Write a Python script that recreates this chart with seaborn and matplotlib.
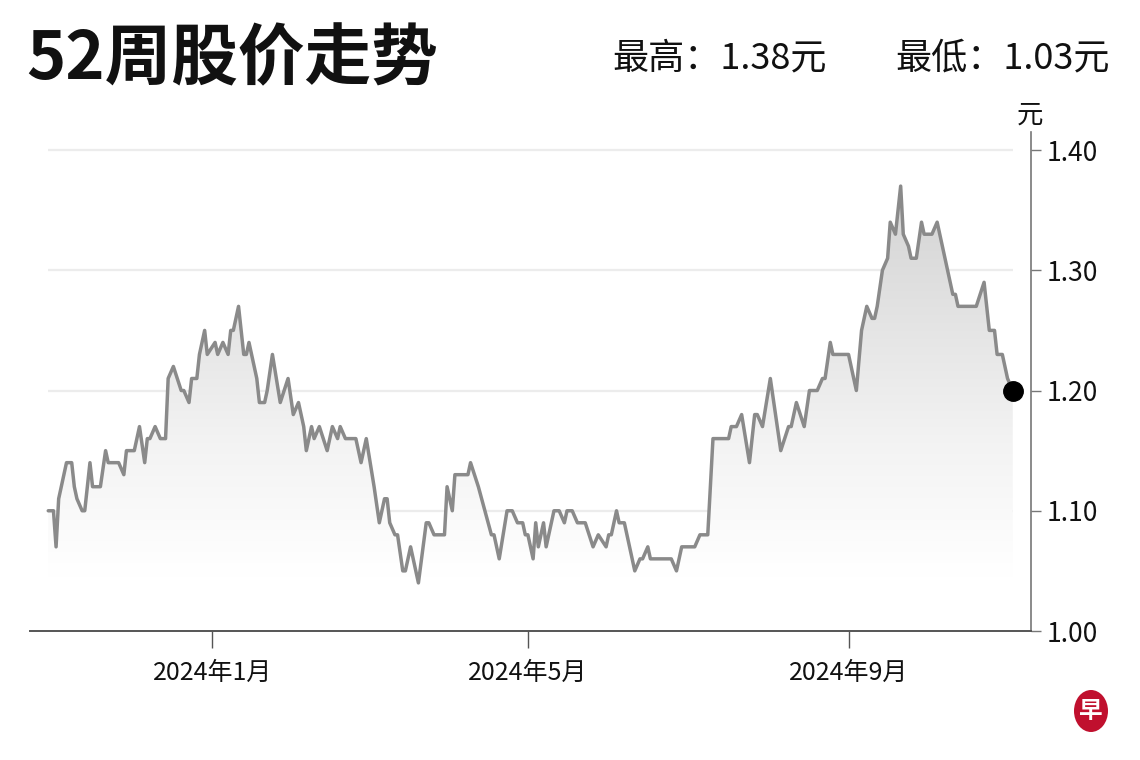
import numpy as np
import pandas as pd
import matplotlib
matplotlib.use("Agg")
import matplotlib.pyplot as plt
import matplotlib.dates as mdates
from matplotlib.patches import Ellipse
from matplotlib.colors import LinearSegmentedColormap
import seaborn as sns

# ---------------- data ----------------
dates = [
    "2023-10-30", "2023-11-01", "2023-11-02", "2023-11-03", "2023-11-05", "2023-11-06",
    "2023-11-08", "2023-11-09", "2023-11-10", "2023-11-12", "2023-11-13", "2023-11-15",
    "2023-11-16", "2023-11-19", "2023-11-21", "2023-11-22", "2023-11-26", "2023-11-28",
    "2023-11-29", "2023-12-02", "2023-12-04", "2023-12-06", "2023-12-07", "2023-12-08",
    "2023-12-10", "2023-12-12", "2023-12-14", "2023-12-15", "2023-12-17", "2023-12-20",
    "2023-12-21", "2023-12-23", "2023-12-24", "2023-12-26", "2023-12-27", "2023-12-29",
    "2023-12-30", "2024-01-02", "2024-01-03", "2024-01-05", "2024-01-07", "2024-01-08",
    "2024-01-09", "2024-01-11", "2024-01-13", "2024-01-14", "2024-01-15", "2024-01-17",
    "2024-01-18", "2024-01-19", "2024-01-21", "2024-01-22", "2024-01-24", "2024-01-27",
    "2024-01-30", "2024-02-01", "2024-02-03", "2024-02-05", "2024-02-06", "2024-02-08",
    "2024-02-09", "2024-02-11", "2024-02-14", "2024-02-16", "2024-02-18", "2024-02-19",
    "2024-02-21", "2024-02-25", "2024-02-27", "2024-02-29", "2024-03-03", "2024-03-05",
    "2024-03-07", "2024-03-08", "2024-03-09", "2024-03-11", "2024-03-12", "2024-03-14",
    "2024-03-15", "2024-03-17", "2024-03-20", "2024-03-23", "2024-03-24", "2024-03-26",
    "2024-03-30", "2024-03-31", "2024-04-02", "2024-04-03", "2024-04-08", "2024-04-09",
    "2024-04-12", "2024-04-17", "2024-04-18", "2024-04-20", "2024-04-23", "2024-04-25",
    "2024-04-27", "2024-04-29", "2024-04-30", "2024-05-01", "2024-05-03", "2024-05-04",
    "2024-05-05", "2024-05-07", "2024-05-08", "2024-05-11", "2024-05-13", "2024-05-15",
    "2024-05-16", "2024-05-18", "2024-05-20", "2024-05-23", "2024-05-26", "2024-05-28",
    "2024-05-31", "2024-06-01", "2024-06-02", "2024-06-04", "2024-06-05", "2024-06-07",
    "2024-06-09", "2024-06-11", "2024-06-13", "2024-06-14", "2024-06-16", "2024-06-17",
    "2024-06-25", "2024-06-27", "2024-06-29", "2024-07-04", "2024-07-06", "2024-07-09",
    "2024-07-11", "2024-07-17", "2024-07-18", "2024-07-20", "2024-07-22", "2024-07-25",
    "2024-07-27", "2024-07-28", "2024-07-30", "2024-08-02", "2024-08-06", "2024-08-09",
    "2024-08-10", "2024-08-12", "2024-08-15", "2024-08-17", "2024-08-20", "2024-08-22",
    "2024-08-23", "2024-08-25", "2024-08-26", "2024-09-01", "2024-09-04", "2024-09-06",
    "2024-09-08", "2024-09-10", "2024-09-11", "2024-09-12", "2024-09-14", "2024-09-16",
    "2024-09-17", "2024-09-19", "2024-09-21", "2024-09-22", "2024-09-24", "2024-09-25",
    "2024-09-27", "2024-09-29", "2024-09-30", "2024-10-03", "2024-10-05", "2024-10-07",
    "2024-10-09", "2024-10-11", "2024-10-12", "2024-10-13", "2024-10-20", "2024-10-23",
    "2024-10-25", "2024-10-27", "2024-10-28", "2024-10-30", "2024-11-01", "2024-11-03",
]
prices = [
    1.10, 1.10, 1.07, 1.11, 1.13, 1.14,
    1.14, 1.12, 1.11, 1.10, 1.10, 1.14,
    1.12, 1.12, 1.15, 1.14, 1.14, 1.13,
    1.15, 1.15, 1.17, 1.14, 1.16, 1.16,
    1.17, 1.16, 1.16, 1.21, 1.22, 1.20,
    1.20, 1.19, 1.21, 1.21, 1.23, 1.25,
    1.23, 1.24, 1.23, 1.24, 1.23, 1.25,
    1.25, 1.27, 1.23, 1.23, 1.24, 1.22,
    1.21, 1.19, 1.19, 1.20, 1.23, 1.19,
    1.21, 1.18, 1.19, 1.17, 1.15, 1.17,
    1.16, 1.17, 1.15, 1.17, 1.16, 1.17,
    1.16, 1.16, 1.14, 1.16, 1.12, 1.09,
    1.11, 1.11, 1.09, 1.08, 1.08, 1.05,
    1.05, 1.07, 1.04, 1.09, 1.09, 1.08,
    1.08, 1.12, 1.10, 1.13, 1.13, 1.14,
    1.12, 1.08, 1.08, 1.06, 1.10, 1.10,
    1.09, 1.09, 1.08, 1.08, 1.06, 1.09,
    1.07, 1.09, 1.07, 1.10, 1.10, 1.09,
    1.10, 1.10, 1.09, 1.09, 1.07, 1.08,
    1.07, 1.08, 1.08, 1.10, 1.09, 1.09,
    1.07, 1.05, 1.06, 1.06, 1.07, 1.06,
    1.06, 1.05, 1.07, 1.07, 1.08, 1.08,
    1.16, 1.16, 1.17, 1.17, 1.18, 1.14,
    1.18, 1.18, 1.17, 1.21, 1.15, 1.17,
    1.17, 1.19, 1.17, 1.20, 1.20, 1.21,
    1.21, 1.24, 1.23, 1.23, 1.20, 1.25,
    1.27, 1.26, 1.26, 1.27, 1.30, 1.31,
    1.34, 1.33, 1.37, 1.33, 1.32, 1.31,
    1.31, 1.34, 1.33, 1.33, 1.34, 1.32,
    1.30, 1.28, 1.28, 1.27, 1.27, 1.29,
    1.25, 1.25, 1.23, 1.23, 1.21, 1.20,
]
y_ticks = [1.00, 1.10, 1.20, 1.30, 1.40]
y_tick_labels = ["1.00", "1.10", "1.20", "1.30", "1.40"]
x_ticks = ["2024-01-01", "2024-05-01", "2024-09-01"]
x_tick_labels = ["2024年1月", "2024年5月", "2024年9月"]
title = "52周股价走势"
high_text = "最高：1.38元"
low_text = "最低：1.03元"
unit = "元"

df = pd.DataFrame({"date": pd.to_datetime(dates), "price": prices})

# ---------------- style ----------------
sns.set_theme(style="white")
plt.rcParams["font.family"] = ["Noto Sans CJK SC", "DejaVu Sans"]
plt.rcParams["axes.unicode_minus"] = False

fig = plt.figure(figsize=(11.4, 7.6), dpi=100)
ax = fig.add_axes([30 / 1140, 129 / 760, 1001 / 1140, 499 / 760])

xmin = pd.Timestamp("2023-10-23")
xmax = pd.Timestamp("2024-11-10")
ymin, ymax = 1.00, 1.415

# gridlines spanning the data range
for yv in y_ticks[1:]:
    ax.hlines(yv, df["date"].iloc[0], df["date"].iloc[-1], color="#ececec",
              linewidth=1.6, zorder=0)

# gradient fill under line
poly = ax.fill_between(df["date"], df["price"], ymin, facecolor="none",
                       edgecolor="none", zorder=1)
cmap = LinearSegmentedColormap.from_list(
    "g", [(0.0, "#ffffff"), (0.12, "#ffffff"), (0.4, "#f3f3f3"), (1.0, "#d0d0d0")])
grad = np.linspace(0, 1, 256).reshape(-1, 1)
x0 = mdates.date2num(df["date"].iloc[0])
x1 = mdates.date2num(df["date"].iloc[-1])
im = ax.imshow(grad, cmap=cmap, aspect="auto", origin="lower",
               extent=[x0, x1, 1.00, 1.39], zorder=1, interpolation="bicubic")
im.set_clip_path(poly.get_paths()[0], transform=ax.transData)

sns.lineplot(data=df, x="date", y="price", ax=ax, color="#8a8a8a",
             linewidth=2.5, zorder=3)
ax.plot(df["date"].iloc[-1], df["price"].iloc[-1], "o", color="black",
        markersize=14, zorder=4)

ax.set_xlim(xmin, xmax)
ax.set_ylim(ymin, ymax)

# axes decoration
for s in ["top", "left"]:
    ax.spines[s].set_visible(False)
ax.spines["bottom"].set_color("#555555")
ax.spines["bottom"].set_linewidth(1.4)
ax.spines["right"].set_color("#777777")
ax.spines["right"].set_linewidth(1.2)

ax.yaxis.tick_right()
ax.set_yticks(y_ticks)
ax.set_yticklabels(y_tick_labels)
ax.tick_params(axis="y", which="both", right=True, left=False, direction="out",
               length=7, width=1.0, color="#777777", pad=4, labelsize=19,
               labelcolor="#111111")

ax.set_xticks(pd.to_datetime(x_ticks))
ax.set_xticklabels(x_tick_labels)
ax.tick_params(axis="x", which="both", bottom=True, direction="out",
               length=12, width=1.0, color="#555555", pad=9, labelsize=18,
               labelcolor="#111111")
ax.set_xlabel("")
ax.set_ylabel("")
ax.grid(False)

# header texts
fig.text(26 / 1140, 1 - 60 / 760, title, fontsize=48, fontweight="bold",
         va="center", ha="left", color="#111111")
fig.text(612 / 1140, 1 - 58 / 760, high_text, fontsize=26, va="center",
         ha="left", color="#111111")
fig.text(1110 / 1140, 1 - 58 / 760, low_text, fontsize=26, va="center",
         ha="right", color="#111111")
fig.text(1030 / 1140, 1 - 115 / 760, unit, fontsize=19, va="center",
         ha="center", color="#111111")

# logo
fig.add_artist(Ellipse((1091 / 1140, 1 - 711 / 760), width=34 / 1140,
                       height=42 / 760, transform=fig.transFigure,
                       facecolor="#c0102e", edgecolor="none"))
fig.text(1091 / 1140, 1 - 711 / 760, "早", fontsize=17, fontweight="bold",
         color="white", ha="center", va="center")

fig.savefig("out.png", dpi=100, facecolor="white")
